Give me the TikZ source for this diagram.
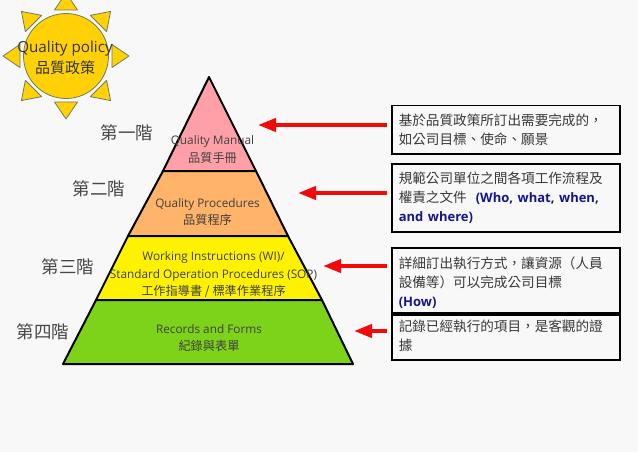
\documentclass[tikz,border=0pt]{standalone}
\usepackage{fontspec}
\setmainfont{Open Sans}
\newfontfamily\cjk{Noto Sans CJK TC}
\usepackage{xcolor}
\usepackage{tikz}
\usetikzlibrary{arrows.meta}
\definecolor{pagegray}{HTML}{F8F8F9}
\definecolor{sunfill}{HTML}{FFD106}
\definecolor{sunline}{HTML}{6E7F5C}
\definecolor{askblue}{HTML}{14148C}
\definecolor{arrowred}{HTML}{F00A0A}
\tikzset{
  sunray/.style={draw=sunline, fill=sunfill, line width=0.8pt, line join=round},
  layer/.style={draw=black, line width=2pt, line join=round},
  layertext/.style={align=center, inner sep=0pt, text=black!75, font=\fontsize{11.8}{17.6}\selectfont},
  steptext/.style={inner sep=0pt, text=black!72, font=\cjk\fontsize{17.5}{20}\selectfont},
  notebox/.style={draw=black, line width=1.5pt, fill=pagegray, anchor=north west, align=left, inner ysep=0pt,
    inner xsep=7pt, text width=214pt, text=black!78, font=\fontsize{13.6}{18.7}\selectfont},
  redarrow/.style={color=arrowred, line width=4pt, -{Triangle[length=18pt,width=13pt]}},
}
\newcommand{\ask}[1]{\textcolor{askblue}{\fontsize{13}{18.7}\selectfont\textbf{#1}}}
\newcommand{\zh}[1]{{\cjk\fontsize{12.2}{17.6}\selectfont #1}}
\begin{document}
\begin{tikzpicture}[x=1pt, y=1pt]
  \clip (0,0) rectangle (638,-452);
  \fill[pagegray] (0,0) rectangle (638,-452);

  \foreach \ang in {0,45,...,315}
    \draw[sunray, shift={(66,-56)}, rotate=\ang] (46,-11.5) -- (63,0) -- (46,11.5) -- cycle;
  \node[circle, draw=sunline, fill=sunfill, line width=0.8pt, minimum size=85pt, inner sep=0pt] (sun) at (66,-56) {};
  \node[layertext, text=black!80, font=\fontsize{15.2}{21}\selectfont] (policy) at (65,-57.5) {Quality policy\\{\cjk\fontsize{15}{21}\selectfont 品質政策}};

  \draw[layer, fill={rgb,255:red,255;green,160;blue,168}] (209,-77) -- (256,-171) -- (163,-171) -- cycle;
  \draw[layer, fill={rgb,255:red,255;green,180;blue,105}] (163,-171) -- (256,-171) -- (288,-236) -- (128,-236) -- cycle;
  \draw[layer, fill=yellow] (128,-236) -- (288,-236) -- (322,-300) -- (96,-300) -- cycle;
  \draw[layer, fill={rgb,255:red,125;green,211;blue,25}] (96,-300) -- (322,-300) -- (353,-364) -- (63,-364) -- cycle;

  \node[layertext] (manual) at (212.5,-149.5) {Quality Manual\\\zh{品質手冊}};
  \node[layertext] (procedures) at (207.5,-212) {Quality Procedures\\\zh{品質程序}};
  \node[layertext] (working) at (213.5,-275) {Working Instructions (WI)/\\Standard Operation Procedures (SOP)\\\zh{工作指導書 / 標準作業程序}};
  \node[layertext] (records) at (209,-338) {Records and Forms\\\zh{紀錄與表單}};

  \node[steptext] (step1) at (127,-133) {第一階};
  \node[steptext] (step2) at (99,-189) {第二階};
  \node[steptext] (step3) at (68,-267) {第三階};
  \node[steptext] (step4) at (43,-332) {第四階};

  \node[notebox, text depth=28pt, minimum height=48pt] (note1) at (391,-105)
    {\rule{0pt}{20pt}{\cjk 基於品質政策所訂出需要完成的，\\如公司目標、使命、願景}};
  \node[notebox, text depth=48pt, minimum height=68pt] (note2) at (391,-163)
    {\rule{0pt}{20pt}{\cjk 規範公司單位之間各項工作流程及\\權責之文件}\ \ \ask{(Who, what, when,\\and where)}};
  \node[notebox, text depth=44pt, minimum height=65pt] (note3) at (391,-247)
    {\rule{0pt}{21pt}{\cjk 詳細訂出執行方式，讓資源（人員\\設備等）可以完成公司目標}\\\ask{(How)}};
  \node[notebox, text depth=28pt, minimum height=45pt] (note4) at (391,-314)
    {\rule{0pt}{17pt}{\cjk 記錄已經執行的項目，是客觀的證\\據}};

  \coordinate (tip1) at (258,-125);
  \coordinate (tip2) at (298,-193);
  \coordinate (tip3) at (323,-266);
  \coordinate (tip4) at (354,-331);
  \coordinate (tail1) at (387,-125);
  \coordinate (tail2) at (387,-193);
  \coordinate (tail3) at (387,-266);
  \coordinate (tail4) at (387,-331);
  \path[redarrow]
  (tail1) edge (tip1)
  (tail2) edge (tip2)
  (tail3) edge (tip3)
  (tail4) edge (tip4)
  ;
\end{tikzpicture}
\end{document}
